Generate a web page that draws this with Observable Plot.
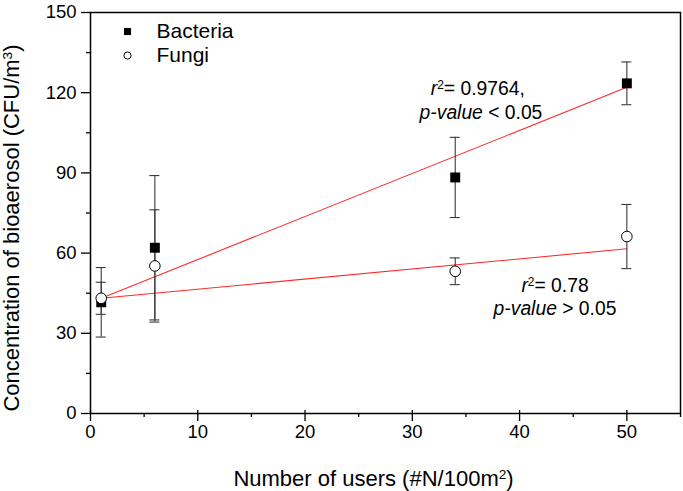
<!DOCTYPE html>
<html>
<head>
<meta charset="utf-8">
<script src="https://cdn.jsdelivr.net/npm/d3@7"></script>
<script src="https://cdn.jsdelivr.net/npm/@observablehq/plot@0.6"></script>
<style>
  html, body { margin: 0; padding: 0; background: #fff; }
</style>
</head>
<body>
<div id="chart"></div>
<script>
// ---- data ----
const usersX = [1, 6, 34, 50];
const bacteria = [41.6, 62, 88.3, 123.5];
const bacteriaErr = [13, 27, 15, 8];
const fungi = [43.1, 55.2, 53.2, 66.2];
const fungiErr = [6, 21, 5, 12];
const fitX = [1, 50];
const bacteriaFit = [43.1, 122];
const fungiFit = [43.1, 61.6];
const xTicks = [0, 10, 20, 30, 40, 50];
const xMinor = [5, 15, 25, 35, 45, 55];
const yTicks = [0, 30, 60, 90, 120, 150];
const yMinor = [15, 45, 75, 105, 135];
const seriesNames = ["Bacteria", "Fungi"];
const annotations = [
  {x: 36.1, y: 121.5, text: "r²= 0.9764,"},
  {x: 36.4, y: 112.5, text: "p-value < 0.05"},
  {x: 43.3, y: 47.9, text: "r²= 0.78"},
  {x: 43.3, y: 39.3, text: "p-value > 0.05"}
];
const xTitle = "Number of users (#N/100m²)";
const yTitle = "Concentration of bioaerosol (CFU/m³)";

const rows = (ys, errs, name) => usersX.map((x, i) => ({x, y: ys[i], lo: ys[i] - errs[i], hi: ys[i] + errs[i], name}));
const bRows = rows(bacteria, bacteriaErr, "Bacteria");
const fRows = rows(fungi, fungiErr, "Fungi");
const errRows = [...bRows, ...fRows];
const capRows = errRows.flatMap(d => [{x: d.x, y: d.lo}, {x: d.x, y: d.hi}]);
const fitRows = [
  fitX.map((x, i) => ({x, y: bacteriaFit[i], s: "b"})),
  fitX.map((x, i) => ({x, y: fungiFit[i], s: "f"}))
].flat();

const errColor = "#3a3a3a";

const chart = Plot.plot({
  width: 683,
  height: 491,
  marginLeft: 90,
  marginRight: 3,
  marginTop: 12,
  marginBottom: 78,
  style: {fontFamily: "'Liberation Sans', Arial, sans-serif", fontSize: "18px", color: "black", background: "white"},
  x: {domain: [0, 55]},
  y: {domain: [0, 150]},
  marks: [
    Plot.axisX({ticks: xMinor, tickSize: 4, tickFormat: () => "", strokeWidth: 1.3, label: null}),
    Plot.axisX({ticks: xTicks, tickSize: 8, tickPadding: 3, fontSize: 18.5, strokeWidth: 1.3, label: null}),
    Plot.ruleX(xTicks, {x: d => d, y1: 0, y2: 0, insetTop: -3, stroke: "black", strokeWidth: 1.3}),
    Plot.axisY({ticks: yMinor, tickSize: 4, tickFormat: () => "", strokeWidth: 1.3, label: null}),
    Plot.axisY({ticks: yTicks, tickSize: 9, tickPadding: 5, fontSize: 18.5, strokeWidth: 1.3, label: null}),
    Plot.frame({stroke: "black", strokeWidth: 1.5}),
    // regression lines
    Plot.line(fitRows, {x: "x", y: "y", z: "s", stroke: "#ff2a2a", strokeWidth: 1.1}),
    // error bars
    Plot.ruleX(errRows, {x: "x", y1: "lo", y2: "hi", stroke: errColor, strokeWidth: 1.1}),
    Plot.ruleY(capRows, {y: "y", x1: "x", x2: "x", insetLeft: -5, insetRight: -5, stroke: errColor, strokeWidth: 1.1}),
    // points
    Plot.dot(bRows, {x: "x", y: "y", symbol: "square", r: 5.6, fill: "black", stroke: "none"}),
    Plot.dot(fRows, {x: "x", y: "y", symbol: "circle", r: 5.3, fill: "white", stroke: "black", strokeWidth: 1}),
    // annotations
    Plot.text(annotations, {x: "x", y: "y", text: "text", textAnchor: "middle", fontSize: 19.3, fill: "black"}),
    // legend
    Plot.dot([seriesNames[0]], {frameAnchor: "top-left", dx: 37, dy: 19, symbol: "square", r: 4, fill: "black"}),
    Plot.dot([seriesNames[1]], {frameAnchor: "top-left", dx: 37, dy: 43, symbol: "circle", r: 3.6, fill: "white", stroke: "black", strokeWidth: 1}),
    Plot.text([seriesNames[0]], {text: d => d, frameAnchor: "top-left", dx: 66, dy: 19, textAnchor: "start", lineAnchor: "middle", fontSize: 21}),
    Plot.text([seriesNames[1]], {text: d => d, frameAnchor: "top-left", dx: 66, dy: 43, textAnchor: "start", lineAnchor: "middle", fontSize: 21}),
    // axis titles
    Plot.text([xTitle], {text: d => d, frameAnchor: "bottom", textAnchor: "middle", lineAnchor: "middle", dx: -12, dy: 65, fontSize: 22}),
    Plot.text([yTitle], {text: d => d, frameAnchor: "left", textAnchor: "middle", lineAnchor: "middle", dx: -79, dy: 15, rotate: -90, fontSize: 22})
  ]
});

document.getElementById("chart").appendChild(chart);

// Rich text: italic r / p-value and true superscripts
const SVGNS = "http://www.w3.org/2000/svg";
chart.querySelectorAll("text").forEach(t => {
  const s = t.textContent;
  if (!/[²³]|p-value/.test(s)) return;
  const parts = [];
  const re = /(p-value)|(r)(?=²)|([²³])/g;
  let last = 0, m;
  while ((m = re.exec(s)) !== null) {
    if (m.index > last) parts.push({t: s.slice(last, m.index)});
    if (m[1]) parts.push({t: m[1], it: true});
    else if (m[2]) parts.push({t: m[2], it: true});
    else if (m[3]) parts.push({t: m[3] === "²" ? "2" : "3", sup: true});
    last = re.lastIndex;
  }
  if (last < s.length) parts.push({t: s.slice(last)});
  t.textContent = "";
  let shifted = false;
  parts.forEach(p => {
    const ts = document.createElementNS(SVGNS, "tspan");
    ts.textContent = p.t;
    if (p.it) ts.setAttribute("font-style", "italic");
    if (p.sup) {
      ts.setAttribute("dy", "-0.5em");
      ts.setAttribute("font-size", "0.62em");
      shifted = true;
    } else if (shifted) {
      ts.setAttribute("dy", "0.31em");
      shifted = false;
    }
    t.appendChild(ts);
  });
});
</script>
</body>
</html>
